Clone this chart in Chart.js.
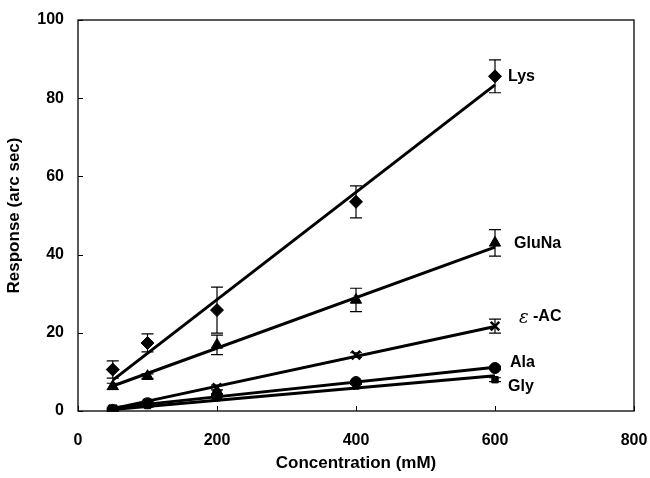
<!DOCTYPE html>
<html>
<head>
<meta charset="utf-8">
<script src="https://cdn.jsdelivr.net/npm/chart.js@4.4.0/dist/chart.umd.min.js"></script>
<style>
  body { margin: 0; background: #fff; }
  #wrap { width: 650px; height: 478px; }
</style>
</head>
<body>
<div id="wrap"><canvas id="c" width="650" height="478"></canvas></div>
<script>
// concentrations (mM)
const conc = [50, 100, 200, 400, 600];
const fitX = [50, 600];

const seriesNames = ['Lys', 'GluNa', '\u03b5 -AC', 'Ala', 'Gly'];

// mean responses (arc sec)
const lysVals = [10.6, 17.4, 25.8, 53.5, 85.6];
const gluVals = [6.3, 8.9, 16.9, 28.4, 43.0];
const acVals = [0.5, 2.0, 6.0, 14.3, 21.7];
const alaVals = [0.3, 2.0, 4.0, 7.4, 11.0];
const glyVals = [0.2, 1.4, 3.4, 6.4, 8.0];

// error bar half-widths
const lysErr = [2.2, 2.3, 5.9, 4.1, 4.2];
const gluErr = [0.8, 0.6, 2.5, 3.0, 3.4];
const acErr = [0.5, 0.5, 0.6, 0.6, 1.8];
const alaErr = [0.3, 0.4, 0.4, 0.4, 0.4];
const glyErr = [0.3, 0.4, 0.4, 0.4, 0.5];

// linear fit lines, read at x = 50 and x = 600
const lysFit = [7.9, 83.4];
const gluFit = [6.4, 41.9];
const acFit = [0.6, 21.6];
const alaFit = [0.8, 11.2];
const glyFit = [0.4, 9.0];

const xTicks = [0, 200, 400, 600, 800];
const yTicks = [0, 20, 40, 60, 80, 100];

const tickFont = { family: 'Liberation Sans, Arial, sans-serif', size: 16, weight: 'bold' };
const titleFont = { family: 'Liberation Sans, Arial, sans-serif', size: 17, weight: 'bold' };

const pts = (xs, ys) => xs.map((x, i) => ({ x: x, y: ys[i] }));

const markerDefs = [
  { vals: lysVals, err: lysErr, style: 'rectRot', r: 6.5 },
  { vals: gluVals, err: gluErr, style: 'triangle', r: 6.5 },
  { vals: acVals, err: acErr, style: 'crossRot', r: 6 },
  { vals: alaVals, err: alaErr, style: 'circle', r: 5.5 },
  { vals: glyVals, err: glyErr, style: 'rect', r: 4.5 },
];
const fits = [lysFit, gluFit, acFit, alaFit, glyFit];

const datasets = [];
fits.forEach((f, i) => {
  datasets.push({
    type: 'line',
    label: seriesNames[i] + ' fit',
    data: pts(fitX, f),
    borderColor: '#000',
    borderWidth: 3,
    pointRadius: 0,
    fill: false,
    order: 2,
  });
});
markerDefs.forEach((m, i) => {
  datasets.push({
    type: 'scatter',
    label: seriesNames[i],
    data: pts(conc, m.vals),
    errors: m.err,
    pointStyle: m.style,
    pointRadius: m.r,
    pointBackgroundColor: '#000',
    pointBorderColor: '#000',
    pointBorderWidth: m.style === 'crossRot' ? 2.5 : 1,
    showLine: false,
    order: 1,
  });
});

// error bars behind the markers
const errorBars = {
  id: 'errorBars',
  beforeDatasetsDraw(chart) {
    const { ctx, scales: { x, y } } = chart;
    ctx.save();
    ctx.strokeStyle = '#000';
    ctx.lineWidth = 1.2;
    chart.data.datasets.forEach((ds) => {
      if (!ds.errors) return;
      ds.data.forEach((p, i) => {
        const e = ds.errors[i];
        const px = x.getPixelForValue(p.x);
        const top = y.getPixelForValue(p.y + e);
        const bot = y.getPixelForValue(Math.max(0, p.y - e));
        ctx.beginPath();
        ctx.moveTo(px, top); ctx.lineTo(px, bot);
        ctx.moveTo(px - 6, top); ctx.lineTo(px + 6, top);
        ctx.moveTo(px - 6, bot); ctx.lineTo(px + 6, bot);
        ctx.stroke();
      });
    });
    ctx.restore();
  }
};

// frame, inward ticks and series names
const frame = {
  id: 'frame',
  afterDraw(chart) {
    const { ctx, chartArea: a, scales: { x, y } } = chart;
    ctx.save();
    ctx.strokeStyle = '#000';
    ctx.lineWidth = 1.3;
    ctx.strokeRect(a.left, a.top, a.right - a.left, a.bottom - a.top);
    ctx.lineWidth = 1;
    ctx.beginPath();
    xTicks.forEach((t) => {
      const px = Math.round(x.getPixelForValue(t)) + 0.5;
      ctx.moveTo(px, a.bottom); ctx.lineTo(px, a.bottom - 5);
    });
    yTicks.forEach((t) => {
      const py = Math.round(y.getPixelForValue(t)) + 0.5;
      ctx.moveTo(a.left, py); ctx.lineTo(a.left + 5, py);
    });
    ctx.stroke();

    const offs = [[13, 0], [19, 1], [24, -10], [15, -5], [13, 7]];
    ctx.fillStyle = '#000';
    ctx.textBaseline = 'middle';
    ctx.textAlign = 'left';
    const lab = 'bold 16px "Liberation Sans", Arial, sans-serif';
    markerDefs.forEach((m, i) => {
      const last = m.vals.length - 1;
      const px = x.getPixelForValue(conc[last]) + offs[i][0];
      const py = y.getPixelForValue(m.vals[last]) + offs[i][1];
      if (i === 2) {
        ctx.font = 'italic 18px "DejaVu Serif", serif';
        ctx.fillText('\u03b5', px, py + 2);
        ctx.font = lab;
        ctx.fillText('-AC', px + 14, py);
      } else {
        ctx.font = lab;
        ctx.fillText(seriesNames[i], px, py);
      }
    });
    ctx.restore();
  }
};

new Chart(document.getElementById('c'), {
  data: { datasets: datasets },
  options: {
    responsive: false,
    animation: false,
    layout: { padding: { left: 0, top: 20, right: 16, bottom: 0 } },
    plugins: { legend: { display: false }, tooltip: { enabled: false } },
    scales: {
      x: {
        type: 'linear', min: 0, max: 800,
        afterBuildTicks: (s) => { s.ticks = xTicks.map((v) => ({ value: v })); },
        afterFit: (s) => { s.height = 67; s.paddingLeft = 0; s.paddingRight = 0; },
        grid: { display: false, drawTicks: false },
        border: { display: false },
        ticks: { color: '#000', font: tickFont, padding: 20, maxRotation: 0 },
        title: { display: true, text: 'Concentration (mM)', color: '#000', font: titleFont, padding: { top: 9 } },
      },
      y: {
        type: 'linear', min: 0, max: 100,
        afterBuildTicks: (s) => { s.ticks = yTicks.map((v) => ({ value: v })); },
        afterFit: (s) => { s.width = 78; s.paddingTop = 0; s.paddingBottom = 0; },
        grid: { display: false, drawTicks: false },
        border: { display: false },
        ticks: { color: '#000', font: tickFont, padding: 14 },
        title: { display: true, text: 'Response (arc sec)', color: '#000', font: titleFont, padding: { bottom: 4 } },
      },
    },
  },
  plugins: [errorBars, frame],
});
</script>
</body>
</html>
